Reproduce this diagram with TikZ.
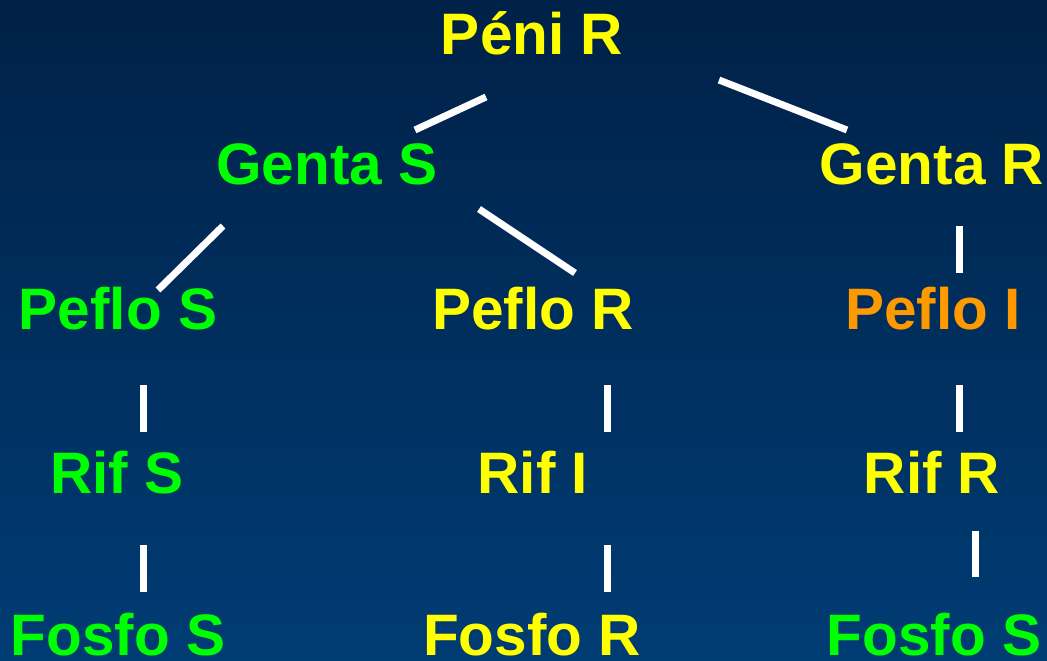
\documentclass[tikz,border=0pt]{standalone}
\usepackage{fontspec}
\setmainfont{Liberation Sans}
\definecolor{bgtop}{RGB}{0,33,71}
\definecolor{bgbot}{RGB}{0,60,116}
\definecolor{tyel}{RGB}{255,255,0}
\definecolor{tgrn}{RGB}{0,255,0}
\definecolor{torg}{RGB}{255,153,0}
\tikzset{
  lbl/.style={anchor=base, inner sep=0pt, font=\fontsize{58.5}{60}\selectfont\bfseries},
  ye/.style={lbl, text=tyel},
  gr/.style={lbl, text=tgrn},
  og/.style={lbl, text=torg},
  link/.style={white, line width=7pt}
}
\begin{document}
\begin{tikzpicture}[x=1pt,y=-1pt]
\useasboundingbox (0,0) rectangle (1047,661);
\shade[top color=bgtop, bottom color=bgbot] (0,0) rectangle (1047,661);

\node[ye] (peni) at (532,55) {Péni R};
\node[gr] (gentaS) at (327,184) {Genta S};
\node[ye] (gentaR) at (932,184) {Genta R};
\node[gr] (pefloS) at (118,329) {Peflo S};
\node[ye] (pefloR) at (533,329) {Peflo R};
\node[og] (pefloI) at (933,329) {Peflo I};
\node[gr] (rifS) at (117,493) {Rif S};
\node[ye] (rifI) at (533,493) {Rif I};
\node[ye] (rifR) at (932,493) {Rif R};
\node[gr] (fosfoS1) at (118,655) {Fosfo S};
\node[ye] (fosfoR) at (532,655) {Fosfo R};
\node[gr] (fosfoS2) at (934,655) {Fosfo S};

\coordinate (a1) at (486,97);  \coordinate (a2) at (415,130);
\coordinate (b1) at (719,80);  \coordinate (b2) at (847,130);
\coordinate (c1) at (223,226); \coordinate (c2) at (158,290);
\coordinate (d1) at (479,209); \coordinate (d2) at (575,273);
\coordinate (e1) at (959,226); \coordinate (e2) at (959,273);
\coordinate (f1) at (143,385); \coordinate (f2) at (143,432);
\coordinate (g1) at (607,385); \coordinate (g2) at (607,432);
\coordinate (h1) at (959,385); \coordinate (h2) at (959,432);
\coordinate (i1) at (143,545); \coordinate (i2) at (143,592);
\coordinate (j1) at (607,545); \coordinate (j2) at (607,592);
\coordinate (k1) at (975,531); \coordinate (k2) at (975,577);

\foreach \p/\q in {a1/a2,b1/b2,c1/c2,d1/d2,e1/e2,f1/f2,g1/g2,h1/h2,i1/i2,j1/j2,k1/k2}
  \draw[link] (\p) -- (\q);
\end{tikzpicture}
\end{document}
